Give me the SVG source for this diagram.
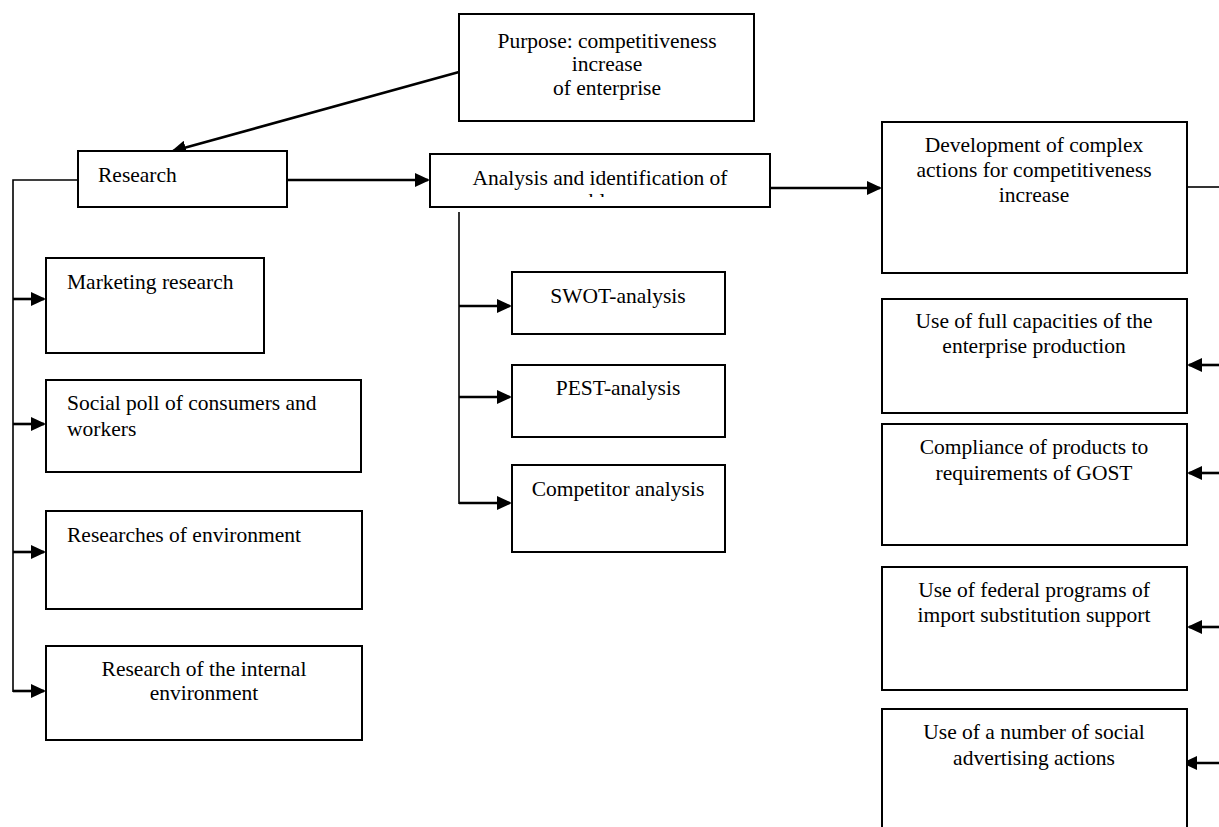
<svg xmlns="http://www.w3.org/2000/svg" width="1219" height="827" viewBox="0 0 1219 827">
<style>
.box{fill:#fff;stroke:#000;stroke-width:2}
.t{font-family:"Liberation Serif","Times New Roman",serif;font-size:21.5px;fill:#000}
.c{text-anchor:middle}
.ar{fill:none;stroke:#000;stroke-width:2.6}
.thin{fill:none;stroke:#000;stroke-width:1.6}
</style>
<defs>
<marker id="ah" markerWidth="15" markerHeight="14" refX="13" refY="7" orient="auto" markerUnits="userSpaceOnUse">
<path d="M0,0 L15,7 L0,14 Z" fill="#000"/>
</marker>
<clipPath id="clipA"><rect x="431" y="155" width="339" height="42"/></clipPath>
</defs>
<rect width="1219" height="827" fill="#fff"/>

<g id="connectors">
<line class="ar" x1="459" y1="72" x2="173" y2="151" marker-end="url(#ah)"/>
<line class="ar" x1="288" y1="180" x2="428" y2="180" marker-end="url(#ah)"/>
<line class="ar" x1="771" y1="188" x2="880" y2="188" marker-end="url(#ah)"/>
<line class="thin" x1="1187" y1="187" x2="1219" y2="187"/>
<polyline class="thin" points="78,180 13,180 13,692"/>
<line class="ar" x1="13" y1="299" x2="44" y2="299" marker-end="url(#ah)"/>
<line class="ar" x1="13" y1="424" x2="44" y2="424" marker-end="url(#ah)"/>
<line class="ar" x1="13" y1="552" x2="44" y2="552" marker-end="url(#ah)"/>
<line class="ar" x1="13" y1="691" x2="44" y2="691" marker-end="url(#ah)"/>
<line class="thin" x1="459" y1="212" x2="459" y2="504"/>
<line class="ar" x1="459" y1="306" x2="510" y2="306" marker-end="url(#ah)"/>
<line class="ar" x1="459" y1="397" x2="510" y2="397" marker-end="url(#ah)"/>
<line class="ar" x1="459" y1="503" x2="510" y2="503" marker-end="url(#ah)"/>
<line class="ar" x1="1219" y1="365" x2="1189" y2="365" marker-end="url(#ah)"/>
<line class="ar" x1="1219" y1="473" x2="1189" y2="473" marker-end="url(#ah)"/>
<line class="ar" x1="1219" y1="627" x2="1189" y2="627" marker-end="url(#ah)"/>
<line class="ar" x1="1219" y1="763" x2="1184" y2="763" marker-end="url(#ah)"/>
</g>

<g id="purpose">
<rect class="box" x="459" y="14" width="295" height="107"/>
<text class="t c" x="607" y="48">Purpose: competitiveness</text>
<text class="t c" x="607" y="71">increase</text>
<text class="t c" x="607" y="95">of enterprise</text>
</g>

<g id="research">
<rect class="box" x="78" y="151" width="209" height="56"/>
<text class="t" x="98" y="182">Research</text>
</g>

<g id="analysis">
<rect class="box" x="430" y="154" width="340" height="53"/>
<text class="t c" x="600" y="185">Analysis and identification of</text>
<text class="t c" x="600" y="208" clip-path="url(#clipA)">problems</text>
</g>

<g id="development">
<rect class="box" x="882" y="122" width="305" height="151"/>
<text class="t c" x="1034" y="152">Development of complex</text>
<text class="t c" x="1034" y="177">actions for competitiveness</text>
<text class="t c" x="1034" y="202">increase</text>
</g>

<g id="marketing">
<rect class="box" x="46" y="258" width="218" height="95"/>
<text class="t" x="67" y="289">Marketing research</text>
</g>

<g id="socialpoll">
<rect class="box" x="46" y="380" width="315" height="92"/>
<text class="t" x="67" y="410">Social poll of consumers and</text>
<text class="t" x="67" y="436">workers</text>
</g>

<g id="environment">
<rect class="box" x="46" y="511" width="316" height="98"/>
<text class="t" x="67" y="542">Researches of environment</text>
</g>

<g id="internal">
<rect class="box" x="46" y="646" width="316" height="94"/>
<text class="t c" x="204" y="676">Research of the internal</text>
<text class="t c" x="204" y="700">environment</text>
</g>

<g id="swot">
<rect class="box" x="512" y="272" width="213" height="62"/>
<text class="t c" x="618" y="303">SWOT-analysis</text>
</g>

<g id="pest">
<rect class="box" x="512" y="365" width="213" height="72"/>
<text class="t c" x="618" y="395">PEST-analysis</text>
</g>

<g id="competitor">
<rect class="box" x="512" y="465" width="213" height="87"/>
<text class="t c" x="618" y="496">Competitor analysis</text>
</g>

<g id="capacities">
<rect class="box" x="882" y="299" width="305" height="114"/>
<text class="t c" x="1034" y="328">Use of full capacities of the</text>
<text class="t c" x="1034" y="353">enterprise production</text>
</g>

<g id="compliance">
<rect class="box" x="882" y="424" width="305" height="121"/>
<text class="t c" x="1034" y="454">Compliance of products to</text>
<text class="t c" x="1034" y="480">requirements of GOST</text>
</g>

<g id="federal">
<rect class="box" x="882" y="567" width="305" height="123"/>
<text class="t c" x="1034" y="597">Use of federal programs of</text>
<text class="t c" x="1034" y="622">import substitution support</text>
</g>

<g id="advertising">
<rect class="box" x="882" y="709" width="305" height="130"/>
<text class="t c" x="1034" y="739">Use of a number of social</text>
<text class="t c" x="1034" y="765">advertising actions</text>
</g>
</svg>
